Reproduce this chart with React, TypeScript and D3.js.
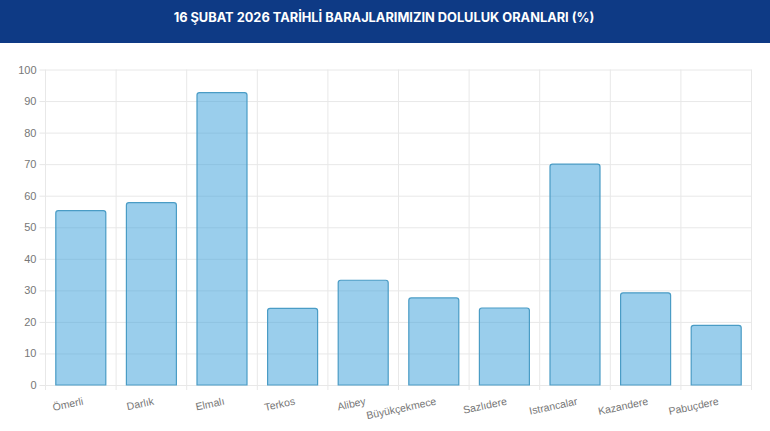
import React, { useEffect, useRef } from "react";
import * as d3 from "d3";

const titleText = "16 ŞUBAT 2026 TARİHLİ BARAJLARIMIZIN DOLULUK ORANLARI (%)";
const dams = [
  "Ömerli",
  "Darlık",
  "Elmalı",
  "Terkos",
  "Alibey",
  "Büyükçekmece",
  "Sazlıdere",
  "Istrancalar",
  "Kazandere",
  "Pabuçdere",
];
const fillRates = [55.3, 57.8, 92.7, 24.3, 33.2, 27.6, 24.4, 70, 29.2, 18.9];
const yTicks = [0, 10, 20, 30, 40, 50, 60, 70, 80, 90, 100];

const width = 770;
const height = 431;

const App: React.FC = () => {
  const svgRef = useRef<SVGSVGElement>(null);

  useEffect(() => {
    if (!svgRef.current) return;

    const marginTop = 69.5;
    const marginRight = 18.5;
    const marginBottom = 46;
    const marginLeft = 45.5;

    const svg = d3.select(svgRef.current);
    svg.selectAll("*").remove();

    // Header band
    svg.append("rect").attr("width", width).attr("height", 43).attr("fill", "#0e3a85");
    svg
      .append("text")
      .attr("x", 384)
      .attr("y", 18)
      .attr("text-anchor", "middle")
      .attr("dominant-baseline", "middle")
      .attr("fill", "#ffffff")
      .attr("font-family", "Inter, sans-serif")
      .attr("font-weight", 700)
      .attr("font-size", 12.8)
      .text(titleText);

    const x = d3
      .scaleBand()
      .domain(dams)
      .range([marginLeft, width - marginRight]);

    const y = d3
      .scaleLinear()
      .domain([0, 100])
      .range([height - marginBottom, marginTop]);

    const bottom = height - marginBottom;

    // Horizontal grid and y labels
    const yAxis = svg
      .append("g")
      .attr("transform", `translate(${marginLeft},0)`)
      .call(d3.axisLeft(y).tickValues(yTicks).tickSize(6).tickPadding(3));
    yAxis.select(".domain").remove();
    yAxis.selectAll(".tick line").attr("stroke", "#e6e6e6");
    yAxis
      .selectAll(".tick line")
      .clone()
      .attr("x1", 0)
      .attr("x2", width - marginLeft - marginRight)
      .attr("stroke", "#e8e8e8");
    yAxis
      .selectAll("text")
      .attr("fill", "#777777")
      .attr("font-family", "'Liberation Sans', Arial, sans-serif")
      .attr("font-size", 11);

    // Vertical grid lines sit on the band edges
    const edges = [...dams.map((d) => x(d)!), width - marginRight];
    svg
      .append("g")
      .selectAll("line")
      .data(edges)
      .join("line")
      .attr("x1", (d) => d)
      .attr("x2", (d) => d)
      .attr("y1", marginTop)
      .attr("y2", bottom + 5)
      .attr("stroke", "#e8e8e8");

    // Bars
    const barWidth = 50;
    const barPath = (d: number, i: number) => {
      const left = x(dams[i])! + (x.bandwidth() - barWidth) / 2;
      const top = y(d);
      const r = 2.5;
      return `M${left},${bottom}V${top + r}Q${left},${top} ${left + r},${top}H${left + barWidth - r}Q${left + barWidth},${top} ${left + barWidth},${top + r}V${bottom}Z`;
    };
    svg
      .append("g")
      .selectAll("path")
      .data(fillRates)
      .join("path")
      .attr("d", barPath)
      .attr("fill", "rgba(54, 158, 218, 0.5)")
      .attr("stroke", "#4a9cc5")
      .attr("stroke-width", 1.2);

    // Rotated category labels
    svg
      .append("g")
      .selectAll("text")
      .data(dams)
      .join("text")
      .attr("transform", (d) => `translate(${x(d)! + x.bandwidth() / 2 + 3},${bottom + 19.5}) rotate(-12)`)
      .attr("text-anchor", "end")
      .attr("fill", "#777777")
      .attr("font-family", "'Liberation Sans', Arial, sans-serif")
      .attr("font-size", 10.5)
      .text((d) => d);
  }, []);

  return (
    <svg
      ref={svgRef}
      width={width}
      height={height}
      style={{ position: "absolute", left: 0, top: 0, background: "#ffffff" }}
    />
  );
};

export default App;
